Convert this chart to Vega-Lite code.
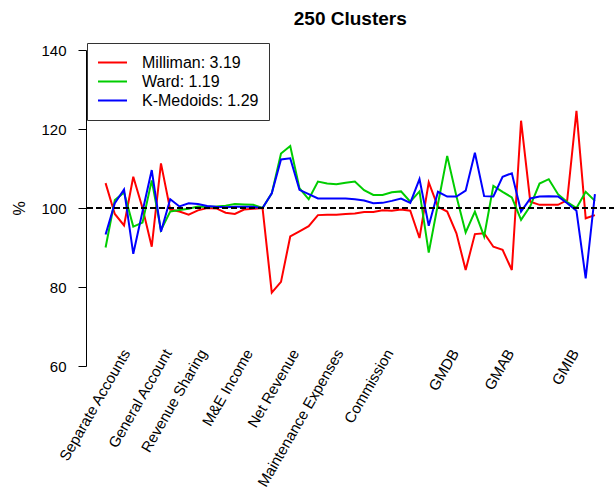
{
  "$schema": "https://vega.github.io/schema/vega-lite/v6.json",
  "autosize": {"type": "none"},
  "width": 528.5,
  "height": 316,
  "padding": {"left": 86, "top": 50, "right": 0, "bottom": 131},
  "background": "white",
  "title": {"text": "250 Clusters", "font": "Liberation Sans", "fontSize": 19, "fontWeight": "bold", "color": "black", "anchor": "middle", "offset": 14},
  "config": {"view": {"stroke": null}, "font": "Liberation Sans"},
  "data": {"values": [
    {"i":1,"s":"Milliman: 3.19","v":106.3},{"i":2,"s":"Milliman: 3.19","v":98.5},{"i":3,"s":"Milliman: 3.19","v":95.6},{"i":4,"s":"Milliman: 3.19","v":107.9},{"i":5,"s":"Milliman: 3.19","v":100},{"i":6,"s":"Milliman: 3.19","v":90.2},{"i":7,"s":"Milliman: 3.19","v":111.3},{"i":8,"s":"Milliman: 3.19","v":99.6},{"i":9,"s":"Milliman: 3.19","v":99.1},{"i":10,"s":"Milliman: 3.19","v":98.3},{"i":11,"s":"Milliman: 3.19","v":99.4},{"i":12,"s":"Milliman: 3.19","v":100},{"i":13,"s":"Milliman: 3.19","v":99.9},{"i":14,"s":"Milliman: 3.19","v":98.8},{"i":15,"s":"Milliman: 3.19","v":98.5},{"i":16,"s":"Milliman: 3.19","v":99.6},{"i":17,"s":"Milliman: 3.19","v":99.8},{"i":18,"s":"Milliman: 3.19","v":100},{"i":19,"s":"Milliman: 3.19","v":78.6},{"i":20,"s":"Milliman: 3.19","v":81.3},{"i":21,"s":"Milliman: 3.19","v":92.8},{"i":22,"s":"Milliman: 3.19","v":94.1},{"i":23,"s":"Milliman: 3.19","v":95.4},{"i":24,"s":"Milliman: 3.19","v":98.2},{"i":25,"s":"Milliman: 3.19","v":98.3},{"i":26,"s":"Milliman: 3.19","v":98.3},{"i":27,"s":"Milliman: 3.19","v":98.5},{"i":28,"s":"Milliman: 3.19","v":98.6},{"i":29,"s":"Milliman: 3.19","v":99},{"i":30,"s":"Milliman: 3.19","v":99},{"i":31,"s":"Milliman: 3.19","v":99.4},{"i":32,"s":"Milliman: 3.19","v":99.3},{"i":33,"s":"Milliman: 3.19","v":99.6},{"i":34,"s":"Milliman: 3.19","v":99.3},{"i":35,"s":"Milliman: 3.19","v":92.4},{"i":36,"s":"Milliman: 3.19","v":106.5},{"i":37,"s":"Milliman: 3.19","v":100.3},{"i":38,"s":"Milliman: 3.19","v":99.1},{"i":39,"s":"Milliman: 3.19","v":93.6},{"i":40,"s":"Milliman: 3.19","v":84.3},{"i":41,"s":"Milliman: 3.19","v":93.4},{"i":42,"s":"Milliman: 3.19","v":93.6},{"i":43,"s":"Milliman: 3.19","v":90.2},{"i":44,"s":"Milliman: 3.19","v":89.4},{"i":45,"s":"Milliman: 3.19","v":84.3},{"i":46,"s":"Milliman: 3.19","v":122.1},{"i":47,"s":"Milliman: 3.19","v":101.6},{"i":48,"s":"Milliman: 3.19","v":100.8},{"i":49,"s":"Milliman: 3.19","v":100.8},{"i":50,"s":"Milliman: 3.19","v":100.8},{"i":51,"s":"Milliman: 3.19","v":102},{"i":52,"s":"Milliman: 3.19","v":124.6},{"i":53,"s":"Milliman: 3.19","v":97.4},{"i":54,"s":"Milliman: 3.19","v":98.2},
    {"i":1,"s":"Ward: 1.19","v":90},{"i":2,"s":"Ward: 1.19","v":102},{"i":3,"s":"Ward: 1.19","v":103.9},{"i":4,"s":"Ward: 1.19","v":95.3},{"i":5,"s":"Ward: 1.19","v":96.3},{"i":6,"s":"Ward: 1.19","v":107},{"i":7,"s":"Ward: 1.19","v":94.4},{"i":8,"s":"Ward: 1.19","v":99.1},{"i":9,"s":"Ward: 1.19","v":99.5},{"i":10,"s":"Ward: 1.19","v":99.8},{"i":11,"s":"Ward: 1.19","v":100.4},{"i":12,"s":"Ward: 1.19","v":100.3},{"i":13,"s":"Ward: 1.19","v":100.4},{"i":14,"s":"Ward: 1.19","v":100.6},{"i":15,"s":"Ward: 1.19","v":101},{"i":16,"s":"Ward: 1.19","v":100.9},{"i":17,"s":"Ward: 1.19","v":100.8},{"i":18,"s":"Ward: 1.19","v":100},{"i":19,"s":"Ward: 1.19","v":103.7},{"i":20,"s":"Ward: 1.19","v":113.8},{"i":21,"s":"Ward: 1.19","v":115.7},{"i":22,"s":"Ward: 1.19","v":105},{"i":23,"s":"Ward: 1.19","v":102.2},{"i":24,"s":"Ward: 1.19","v":106.7},{"i":25,"s":"Ward: 1.19","v":106.2},{"i":26,"s":"Ward: 1.19","v":106},{"i":27,"s":"Ward: 1.19","v":106.4},{"i":28,"s":"Ward: 1.19","v":106.7},{"i":29,"s":"Ward: 1.19","v":104.5},{"i":30,"s":"Ward: 1.19","v":103.3},{"i":31,"s":"Ward: 1.19","v":103.3},{"i":32,"s":"Ward: 1.19","v":104},{"i":33,"s":"Ward: 1.19","v":104.2},{"i":34,"s":"Ward: 1.19","v":101.6},{"i":35,"s":"Ward: 1.19","v":104.2},{"i":36,"s":"Ward: 1.19","v":88.7},{"i":37,"s":"Ward: 1.19","v":101},{"i":38,"s":"Ward: 1.19","v":113.2},{"i":39,"s":"Ward: 1.19","v":103},{"i":40,"s":"Ward: 1.19","v":93.8},{"i":41,"s":"Ward: 1.19","v":99.1},{"i":42,"s":"Ward: 1.19","v":92.8},{"i":43,"s":"Ward: 1.19","v":105.6},{"i":44,"s":"Ward: 1.19","v":104.1},{"i":45,"s":"Ward: 1.19","v":102.7},{"i":46,"s":"Ward: 1.19","v":97},{"i":47,"s":"Ward: 1.19","v":100.5},{"i":48,"s":"Ward: 1.19","v":106.2},{"i":49,"s":"Ward: 1.19","v":107.3},{"i":50,"s":"Ward: 1.19","v":103.5},{"i":51,"s":"Ward: 1.19","v":101.5},{"i":52,"s":"Ward: 1.19","v":100},{"i":53,"s":"Ward: 1.19","v":104.1},{"i":54,"s":"Ward: 1.19","v":101.8},
    {"i":1,"s":"K-Medoids: 1.29","v":93.3},{"i":2,"s":"K-Medoids: 1.29","v":101.2},{"i":3,"s":"K-Medoids: 1.29","v":104.7},{"i":4,"s":"K-Medoids: 1.29","v":88.4},{"i":5,"s":"K-Medoids: 1.29","v":99.1},{"i":6,"s":"K-Medoids: 1.29","v":109.6},{"i":7,"s":"K-Medoids: 1.29","v":94},{"i":8,"s":"K-Medoids: 1.29","v":102.2},{"i":9,"s":"K-Medoids: 1.29","v":100.4},{"i":10,"s":"K-Medoids: 1.29","v":101.2},{"i":11,"s":"K-Medoids: 1.29","v":101},{"i":12,"s":"K-Medoids: 1.29","v":100.5},{"i":13,"s":"K-Medoids: 1.29","v":100.3},{"i":14,"s":"K-Medoids: 1.29","v":100.2},{"i":15,"s":"K-Medoids: 1.29","v":100.3},{"i":16,"s":"K-Medoids: 1.29","v":100.3},{"i":17,"s":"K-Medoids: 1.29","v":100.3},{"i":18,"s":"K-Medoids: 1.29","v":100},{"i":19,"s":"K-Medoids: 1.29","v":103.7},{"i":20,"s":"K-Medoids: 1.29","v":112.3},{"i":21,"s":"K-Medoids: 1.29","v":112.6},{"i":22,"s":"K-Medoids: 1.29","v":104.6},{"i":23,"s":"K-Medoids: 1.29","v":103.5},{"i":24,"s":"K-Medoids: 1.29","v":102.4},{"i":25,"s":"K-Medoids: 1.29","v":102.4},{"i":26,"s":"K-Medoids: 1.29","v":102.4},{"i":27,"s":"K-Medoids: 1.29","v":102.4},{"i":28,"s":"K-Medoids: 1.29","v":102.2},{"i":29,"s":"K-Medoids: 1.29","v":101.9},{"i":30,"s":"K-Medoids: 1.29","v":101.2},{"i":31,"s":"K-Medoids: 1.29","v":101.3},{"i":32,"s":"K-Medoids: 1.29","v":101.8},{"i":33,"s":"K-Medoids: 1.29","v":102.4},{"i":34,"s":"K-Medoids: 1.29","v":101.3},{"i":35,"s":"K-Medoids: 1.29","v":107.3},{"i":36,"s":"K-Medoids: 1.29","v":95.5},{"i":37,"s":"K-Medoids: 1.29","v":104.1},{"i":38,"s":"K-Medoids: 1.29","v":102.9},{"i":39,"s":"K-Medoids: 1.29","v":102.9},{"i":40,"s":"K-Medoids: 1.29","v":104.4},{"i":41,"s":"K-Medoids: 1.29","v":114},{"i":42,"s":"K-Medoids: 1.29","v":103},{"i":43,"s":"K-Medoids: 1.29","v":102.9},{"i":44,"s":"K-Medoids: 1.29","v":107.9},{"i":45,"s":"K-Medoids: 1.29","v":108.8},{"i":46,"s":"K-Medoids: 1.29","v":99.1},{"i":47,"s":"K-Medoids: 1.29","v":102.4},{"i":48,"s":"K-Medoids: 1.29","v":102.9},{"i":49,"s":"K-Medoids: 1.29","v":103},{"i":50,"s":"K-Medoids: 1.29","v":102.9},{"i":51,"s":"K-Medoids: 1.29","v":101.2},{"i":52,"s":"K-Medoids: 1.29","v":99.3},{"i":53,"s":"K-Medoids: 1.29","v":82.2},{"i":54,"s":"K-Medoids: 1.29","v":103.5}
  ]},
  "layer": [
    {
      "mark": {"type": "line", "strokeWidth": 2, "clip": true},
      "encoding": {
        "x": {"field": "i", "type": "quantitative",
          "scale": {"domain": [-1.12, 56.12], "nice": false, "zero": false},
          "axis": {"title": null, "domain": false, "ticks": false, "grid": false,
            "values": [3.2, 7.7, 11.5, 16.5, 21.5, 26.3, 31.7, 38.8, 44.8, 51.8],
            "labelExpr": "datum.value == 3.2 ? 'Separate Accounts' : datum.value == 7.7 ? 'General Account' : datum.value == 11.5 ? 'Revenue Sharing' : datum.value == 16.5 ? 'M&E Income' : datum.value == 21.5 ? 'Net Revenue' : datum.value == 26.3 ? 'Maintenance Expenses' : datum.value == 31.7 ? 'Commission' : datum.value == 38.8 ? 'GMDB' : datum.value == 44.8 ? 'GMAB' : 'GMIB'",
            "labelAngle": -60, "labelAlign": "right", "labelBaseline": "middle",
            "labelPadding": -16, "labelFontSize": 15, "labelColor": "black",
            "labelOverlap": false, "labelBound": false, "labelFlush": false}},
        "y": {"field": "v", "type": "quantitative",
          "scale": {"domain": [60, 140], "nice": false, "zero": false},
          "axis": {"title": "%", "titleFontSize": 16, "titleFontWeight": "normal", "titleColor": "black", "titlePadding": 13,
            "values": [60, 80, 100, 120, 140], "grid": false, "tickSize": 8, "tickColor": "black", "domainColor": "black",
            "labelFontSize": 15, "labelColor": "black", "labelPadding": 12, "labelAngle": 0}},
        "color": {"field": "s", "type": "nominal",
          "scale": {"domain": ["Milliman: 3.19", "Ward: 1.19", "K-Medoids: 1.29"], "range": ["#FF0000", "#00CD00", "#0000FF"]},
          "legend": {"title": null, "orient": "none", "legendX": 1, "legendY": -7,
            "symbolType": "stroke", "symbolStrokeWidth": 2, "symbolSize": 841,
            "labelFontSize": 16, "labelColor": "black", "labelOffset": 14, "clipHeight": 19,
            "fillColor": "white", "strokeColor": "#333333", "padding": 10, "rowPadding": 0}}
      }
    },
    {
      "mark": {"type": "rule", "strokeDash": [5, 4], "color": "black", "strokeWidth": 1},
      "encoding": {"y": {"datum": 100}}
    }
  ]
}
